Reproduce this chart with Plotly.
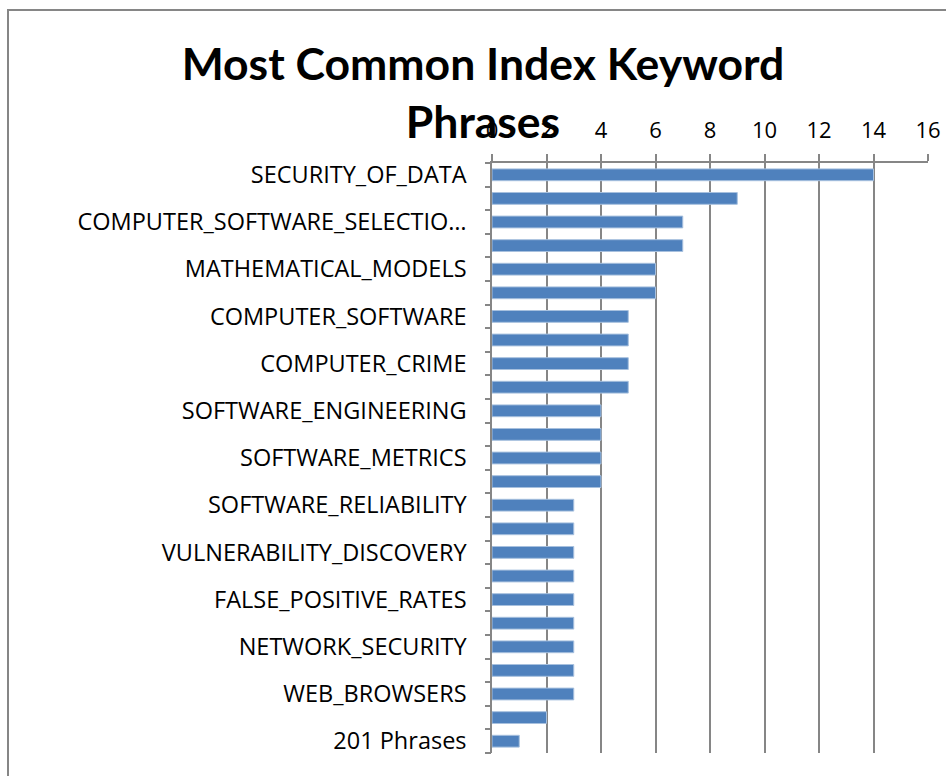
import plotly.graph_objects as go

# Keyword phrase frequencies, top to bottom (only every other label is printed)
labels = [
    "SECURITY_OF_DATA", "",
    "COMPUTER_SOFTWARE_SELECTIO…", "",
    "MATHEMATICAL_MODELS", "",
    "COMPUTER_SOFTWARE", "",
    "COMPUTER_CRIME", "",
    "SOFTWARE_ENGINEERING", "",
    "SOFTWARE_METRICS", "",
    "SOFTWARE_RELIABILITY", "",
    "VULNERABILITY_DISCOVERY", "",
    "FALSE_POSITIVE_RATES", "",
    "NETWORK_SECURITY", "",
    "WEB_BROWSERS", "",
    "201 Phrases",
]
counts = [14, 9, 7, 7, 6, 6, 5, 5, 5, 5, 4, 4, 4, 4,
          3, 3, 3, 3, 3, 3, 3, 3, 3, 2, 1]
x_ticks = [0, 2, 4, 6, 8, 10, 12, 14, 16]

LABEL_FONT = "Open Sans, Lato, sans-serif"
TITLE_FONT = "Lato, Open Sans, sans-serif"
GRAY = "#868686"
BLUE = "#4F81BD"

positions = list(range(len(counts)))
shown = [i for i, t in enumerate(labels) if t]
boundaries = [i - 0.5 for i in range(len(counts) + 1)]
y_range = [len(counts) - 0.5, -0.5]

fig = go.Figure()
fig.add_trace(go.Bar(
    x=counts, y=positions, orientation="h",
    marker=dict(color=BLUE, line=dict(color="#A7C0DE", width=1)),
    width=0.5, hoverinfo="x",
))
# invisible trace so the boundary-tick axis is drawn
fig.add_trace(go.Scatter(x=[0], y=[0], yaxis="y2", mode="markers",
                         marker=dict(opacity=0), hoverinfo="skip", showlegend=False))

fig.update_layout(
    width=946, height=776,
    margin=dict(l=492, r=18, t=163, b=23),
    paper_bgcolor="white", plot_bgcolor="white",
    showlegend=False,
    font=dict(family=LABEL_FONT, size=23, color="black"),
    xaxis=dict(
        side="top", range=[0, 16], tickvals=x_ticks, automargin=False,
        showgrid=True, gridcolor=GRAY, gridwidth=1.5,
        ticks="outside", ticklen=7, tickcolor=GRAY, tickwidth=1.5,
        showline=True, linecolor=GRAY, linewidth=1.5,
        zeroline=False, tickfont=dict(size=22), ticklabelstandoff=7,
    ),
    yaxis=dict(
        range=y_range, tickvals=shown, ticktext=[labels[i] for i in shown],
        ticks="", ticklabelstandoff=19, automargin=False,
        showline=True, linecolor=GRAY, linewidth=1.5,
        showgrid=False, zeroline=False, tickfont=dict(size=23.5),
    ),
    yaxis2=dict(
        overlaying="y", side="left", range=y_range, tickvals=boundaries,
        ticks="outside", ticklen=6, tickcolor=GRAY, tickwidth=1.5,
        showticklabels=False, showgrid=False, zeroline=False, showline=False,
        automargin=False,
    ),
    title=dict(
        text="<b>Most Common Index Keyword<br>Phrases</b>",
        x=483 / 946, xanchor="center", y=1 - 80 / 776, yanchor="bottom",
        font=dict(family=TITLE_FONT, size=44.5, color="black"),
    ),
    shapes=[dict(
        type="rect", xref="paper", yref="paper",
        x0=-484 / 436, x1=1.2, y0=-0.2, y1=743 / 590,
        line=dict(color=GRAY, width=2), layer="below",
    )],
)

fig.write_html("out.html")
